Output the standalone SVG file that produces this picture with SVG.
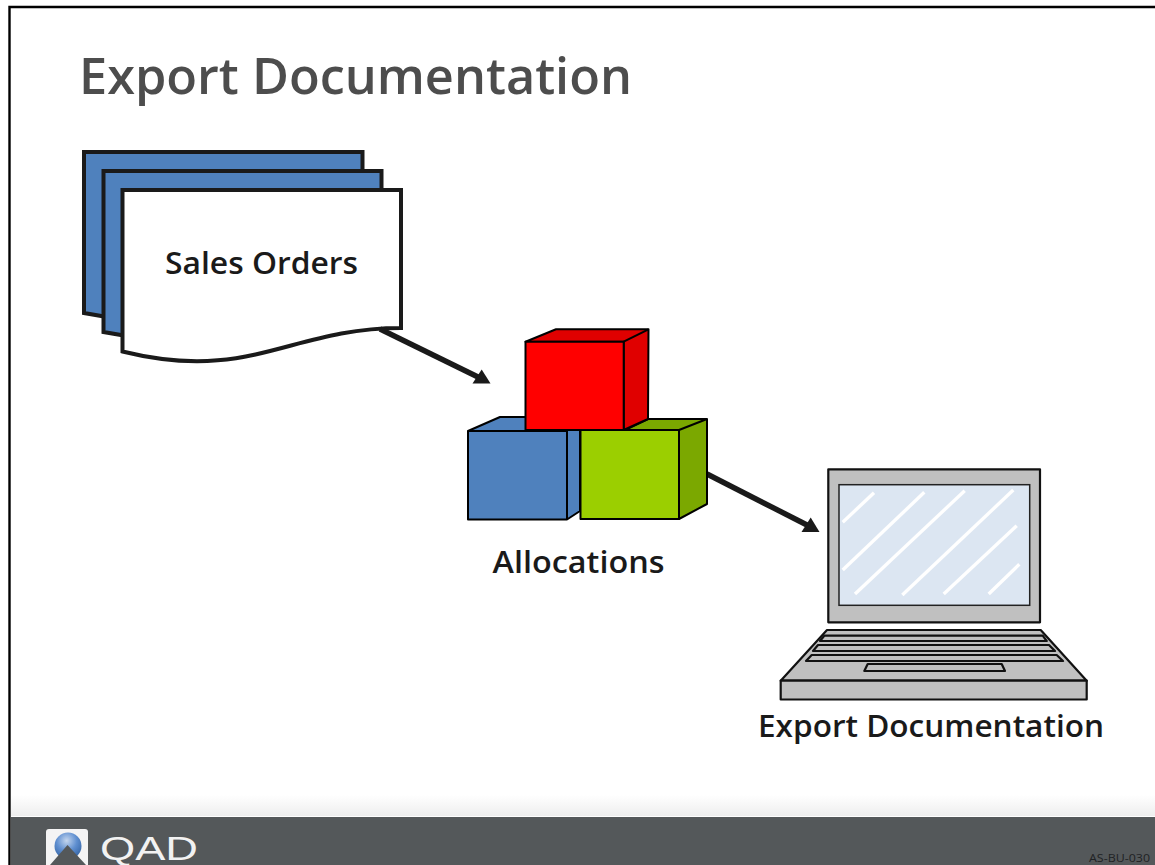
<svg xmlns="http://www.w3.org/2000/svg" width="1155" height="865" viewBox="0 0 1155 865">
<style>
text{font-family:"Open Sans","Liberation Sans",sans-serif;font-weight:600}
.lbl{font-size:30px;fill:#1a1a1a}
.doc{stroke:#1a1a1a;stroke-width:4;stroke-linejoin:miter}
.cube{stroke:#000;stroke-width:2;stroke-linejoin:round}
.lap{fill:#c0c0c0;stroke:#111;stroke-width:2.200;stroke-linejoin:round}
.shine{stroke:#fff;stroke-width:3.400;fill:none}
.conn{stroke:#1a1a1a;stroke-width:5.500;fill:none}
.head{fill:#1a1a1a}
</style>
<defs>
<linearGradient id="fade" x1="0" y1="0" x2="0" y2="1"><stop offset="0" stop-color="#fff"/><stop offset="1" stop-color="#eeeeee"/></linearGradient>
<radialGradient id="ball" cx="0.45" cy="0.3" r="0.75"><stop offset="0" stop-color="#c4d6ee"/><stop offset="0.5" stop-color="#5f8fd0"/><stop offset="1" stop-color="#2f5f9f"/></radialGradient>
</defs>
<rect width="1155" height="865" fill="#fff"/>
<g id="frame">
<path d="M9.5 865V7H1155" fill="none" stroke="#000" stroke-width="2.400"/>
<rect x="11" y="795" width="1144" height="21" fill="url(#fade)"/>
<rect x="11" y="817" width="1144" height="48" fill="#54585a"/>
</g>
<text id="title" x="79" y="94" font-size="51" fill="#4d4d4d" textLength="553" lengthAdjust="spacingAndGlyphs">Export Documentation</text>
<g id="sales-orders">
<path class="doc" fill="#4f81bd" d="M84 152H362.500V310H310C240 310 200 340 130 321L84 313Z"/>
<path class="doc" fill="#4f81bd" d="M103.500 171H381.500V320H330C260 320 220 359 150 340L103.500 332Z"/>
<path class="doc" fill="#fff" d="M122.500 190H401V328C290 328 250 383 122.500 351.500Z"/>
<text class="lbl" x="165" y="274" textLength="193" lengthAdjust="spacingAndGlyphs">Sales Orders</text>
</g>
<g id="connectors">
<path class="conn" d="M380 329L478 377"/>
<path class="head" d="M490.500 383.500H472.500L481.700 369.500Z"/>
<path class="conn" d="M707 474L807 525"/>
<path class="head" d="M819.500 532H801.500L810.700 517.500Z"/>
</g>
<g id="allocations">
<g id="cube-blue">
<path class="cube" fill="#4f81bd" d="M468 431L500 417H580V511L567 519.500H468Z"/>
<path class="cube" fill="none" d="M468 431H567V519.500"/>
</g>
<g id="cube-green">
<path class="cube" fill="#7ba800" d="M648 419H707V504L679 519V430H625Z"/>
<path class="cube" fill="none" d="M707 419L679 430"/>
<rect class="cube" fill="#9bcf00" x="580.500" y="430" width="98.500" height="89"/>
</g>
<g id="cube-red">
<path class="cube" fill="#e00000" d="M525.500 341.700L556 329.300H648.500L648 419L623.700 430V341.700Z"/>
<path class="cube" fill="none" d="M648.500 329.300L623.700 341.700"/>
<rect class="cube" fill="#ff0000" x="525.500" y="341.700" width="98.200" height="88.300"/>
</g>
<text class="lbl" x="492.500" y="573" textLength="172" lengthAdjust="spacingAndGlyphs">Allocations</text>
</g>
<g id="laptop">
<rect class="lap" x="828.300" y="469.300" width="211.700" height="153"/>
<rect x="839" y="484.700" width="190.700" height="120.600" fill="#dce6f2" stroke="#222" stroke-width="1.500"/>
<g class="shine">
<path d="M842.700 522.300L874 492.700"/>
<path d="M842.700 570L924.300 492.300"/>
<path d="M855 594L964.700 490.700"/>
<path d="M902.300 595L1013.300 490"/>
<path d="M943.700 594L1016.700 525.700"/>
<path d="M988.700 594L1019.300 564.300"/>
</g>
<path class="lap" d="M827 630H1040.700L1086.700 680.700H780.700Z"/>
<rect class="lap" x="780.700" y="680.700" width="306" height="18.800"/>
<path class="lap" d="M824.300 635.700H1042.700L1046.700 641H820Z"/>
<path class="lap" d="M818 645H1049L1055 651H813Z"/>
<path class="lap" d="M811.700 655H1056.700L1063 661H806Z"/>
<path class="lap" d="M867.700 664H1001.700L1005 671H864.300Z"/>
<text class="lbl" x="758" y="737" textLength="346" lengthAdjust="spacingAndGlyphs">Export Documentation</text>
</g>
<g id="logo">
<path d="M49 829H85Q88 829 88 832V865H46V832Q46 829 49 829Z" fill="#f4f4f4"/>
<circle cx="68" cy="846" r="13.500" fill="url(#ball)"/>
<path d="M67.500 845L86 865H50Z" fill="#54585a"/>
<text x="100" y="860" font-size="34" fill="#f2f2f2" style="font-family:'Liberation Sans',sans-serif;font-weight:400" textLength="98" lengthAdjust="spacingAndGlyphs">QAD</text>
</g>
<text id="code" x="1089" y="862" font-size="11" fill="#1f2224" style="font-weight:400" textLength="61" lengthAdjust="spacingAndGlyphs">AS-BU-030</text>
</svg>
